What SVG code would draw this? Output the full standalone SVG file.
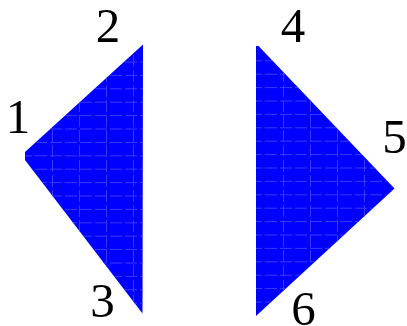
<svg xmlns="http://www.w3.org/2000/svg" width="407" height="326" viewBox="0 0 407 326">
<style>
.tri{fill:#0000ff;stroke:none}
.grid line{stroke:#3a3aff;stroke-width:1;stroke-dasharray:12 3}
.lbl{font-family:"Liberation Serif","Times New Roman",serif;font-size:49px;fill:#000;text-anchor:middle}
</style>
<defs>
<clipPath id="cL"><polygon points="143,44.5 25,152 25,160 142.5,313.5"/></clipPath>
<clipPath id="cR"><polygon points="256,46 258.5,46 394.5,188.5 256,316"/></clipPath>
</defs>
<g id="triangle-left">
<polygon class="tri" points="143,44.5 25,152 25,160 142.5,313.5"/>
<g class="grid" clip-path="url(#cL)">
<line x1="52.5" y1="40" x2="52.5" y2="320"/><line x1="79.5" y1="40" x2="79.5" y2="320"/><line x1="106.5" y1="40" x2="106.5" y2="320"/><line x1="133.5" y1="40" x2="133.5" y2="320"/>
<line x1="20" y1="62" x2="150" y2="62"/><line x1="20" y1="75.4" x2="150" y2="75.4"/><line x1="20" y1="88.8" x2="150" y2="88.8"/><line x1="20" y1="102.2" x2="150" y2="102.2"/><line x1="20" y1="115.6" x2="150" y2="115.6"/><line x1="20" y1="129" x2="150" y2="129"/><line x1="20" y1="142.4" x2="150" y2="142.4"/><line x1="20" y1="155.8" x2="150" y2="155.8"/><line x1="20" y1="169.2" x2="150" y2="169.2"/><line x1="20" y1="182.6" x2="150" y2="182.6"/><line x1="20" y1="196" x2="150" y2="196"/><line x1="20" y1="209.4" x2="150" y2="209.4"/><line x1="20" y1="222.8" x2="150" y2="222.8"/><line x1="20" y1="236.2" x2="150" y2="236.2"/><line x1="20" y1="249.6" x2="150" y2="249.6"/><line x1="20" y1="263" x2="150" y2="263"/><line x1="20" y1="276.4" x2="150" y2="276.4"/><line x1="20" y1="289.8" x2="150" y2="289.8"/><line x1="20" y1="303.2" x2="150" y2="303.2"/>
</g>
</g>
<g id="triangle-right">
<polygon class="tri" points="256,46 258.5,46 394.5,188.5 256,316"/>
<g class="grid" clip-path="url(#cR)">
<line x1="283.5" y1="40" x2="283.5" y2="320"/><line x1="310.5" y1="40" x2="310.5" y2="320"/><line x1="337.5" y1="40" x2="337.5" y2="320"/><line x1="364.5" y1="40" x2="364.5" y2="320"/><line x1="391.5" y1="40" x2="391.5" y2="320"/>
<line x1="250" y1="60.8" x2="400" y2="60.8"/><line x1="250" y1="74.2" x2="400" y2="74.2"/><line x1="250" y1="87.6" x2="400" y2="87.6"/><line x1="250" y1="101" x2="400" y2="101"/><line x1="250" y1="114.4" x2="400" y2="114.4"/><line x1="250" y1="127.8" x2="400" y2="127.8"/><line x1="250" y1="141.2" x2="400" y2="141.2"/><line x1="250" y1="154.6" x2="400" y2="154.6"/><line x1="250" y1="168" x2="400" y2="168"/><line x1="250" y1="181.4" x2="400" y2="181.4"/><line x1="250" y1="194.8" x2="400" y2="194.8"/><line x1="250" y1="208.2" x2="400" y2="208.2"/><line x1="250" y1="221.6" x2="400" y2="221.6"/><line x1="250" y1="235" x2="400" y2="235"/><line x1="250" y1="248.4" x2="400" y2="248.4"/><line x1="250" y1="261.8" x2="400" y2="261.8"/><line x1="250" y1="275.2" x2="400" y2="275.2"/><line x1="250" y1="288.6" x2="400" y2="288.6"/><line x1="250" y1="302" x2="400" y2="302"/>
</g>
</g>
<g id="labels">
<text class="lbl" x="18" y="133">1</text>
<text class="lbl" x="108" y="42">2</text>
<text class="lbl" x="102.5" y="317">3</text>
<text class="lbl" x="293" y="41.5">4</text>
<text class="lbl" x="394.5" y="153">5</text>
<text class="lbl" x="303.5" y="324.5">6</text>
</g>
</svg>
